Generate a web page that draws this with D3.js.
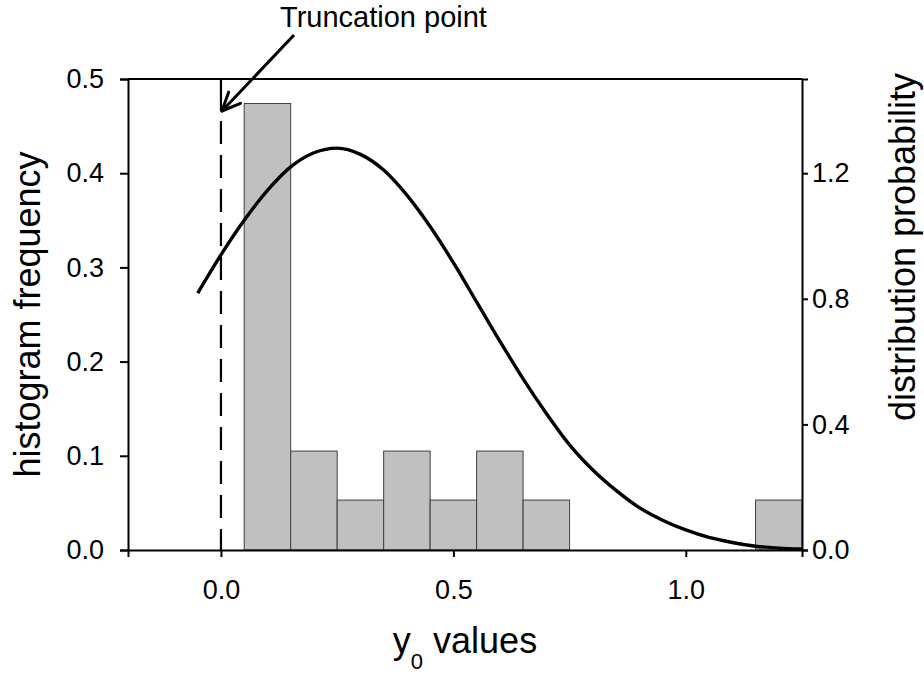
<!DOCTYPE html>
<html>
<head>
<meta charset="utf-8">
<script src="https://cdn.jsdelivr.net/npm/d3@7"></script>
<style>
  html, body { margin: 0; padding: 0; background: #fff; }
  svg { display: block; }
  text { font-family: "Liberation Sans", Arial, Helvetica, sans-serif; fill: #000; }
</style>
</head>
<body>
<svg id="chart" width="924" height="677"></svg>
<script>
// ---- data ----
const binStart = [0.05, 0.15, 0.25, 0.35, 0.45, 0.55, 0.65, 1.15];
const binEnd   = [0.15, 0.25, 0.35, 0.45, 0.55, 0.65, 0.75, 1.25];
const binFreq  = [0.474, 0.105, 0.053, 0.105, 0.053, 0.105, 0.053, 0.053];

const curveX = [-0.05, 0.0, 0.05, 0.10, 0.15, 0.20, 0.25, 0.30, 0.35, 0.40, 0.45, 0.50,
                0.55, 0.60, 0.65, 0.70, 0.75, 0.80, 0.85, 0.90, 0.95, 1.00, 1.05, 1.10,
                1.15, 1.20, 1.25];
const curveY = [0.818, 0.94, 1.05, 1.145, 1.22, 1.265, 1.28, 1.26, 1.21, 1.13, 1.03, 0.915,
                0.79, 0.665, 0.545, 0.435, 0.335, 0.255, 0.19, 0.135, 0.095, 0.064, 0.040, 0.024,
                0.012, 0.006, 0.003];

const xTicks      = [0.0, 0.5, 1.0];
const leftTicks   = [0.0, 0.1, 0.2, 0.3, 0.4, 0.5];
const rightTicks  = [0.0, 0.4, 0.8, 1.2];
const truncationPoint = 0.0;

// ---- layout ----
const svg = d3.select("#chart");
const m = { left: 128, right: 802, top: 79, bottom: 550 };

const x  = d3.scaleLinear().domain([-0.2, 1.25]).range([m.left, m.right]);
const yL = d3.scaleLinear().domain([0, 0.5]).range([m.bottom, m.top]);
const yR = d3.scaleLinear().domain([0, 1.5]).range([m.bottom, m.top]);

// bars
const bars = binStart.map((s, i) => ({ s, e: binEnd[i], f: binFreq[i] }));
svg.append("g").selectAll("rect").data(bars).join("rect")
  .attr("x", d => x(d.s))
  .attr("y", d => yL(d.f))
  .attr("width", d => x(d.e) - x(d.s))
  .attr("height", d => yL(0) - yL(d.f))
  .attr("fill", "#c0c0c0")
  .attr("stroke", "#404040")
  .attr("stroke-width", 1);

// truncation line (solid above arrow tip, dashed below)
const tipY = 111;
svg.append("line")
  .attr("x1", x(truncationPoint)).attr("x2", x(truncationPoint))
  .attr("y1", m.top).attr("y2", tipY)
  .attr("stroke", "#000").attr("stroke-width", 2.2);
svg.append("line")
  .attr("x1", x(truncationPoint)).attr("x2", x(truncationPoint))
  .attr("y1", tipY + 10).attr("y2", m.bottom)
  .attr("stroke", "#000").attr("stroke-width", 2.2)
  .attr("stroke-dasharray", "23,11");

// curve
const pts = curveX.map((v, i) => [v, curveY[i]]);
svg.append("path")
  .datum(pts)
  .attr("fill", "none")
  .attr("stroke", "#000")
  .attr("stroke-width", 3.4)
  .attr("d", d3.line().x(d => x(d[0])).y(d => yR(d[1])).curve(d3.curveMonotoneX));

// frame
svg.append("line").attr("x1", m.left).attr("x2", m.right).attr("y1", m.top).attr("y2", m.top)
  .attr("stroke", "#000").attr("stroke-width", 2);

// axes
const fontTick = 27;
const gL = svg.append("g").attr("transform", `translate(${m.left},0)`)
  .call(d3.axisLeft(yL).tickValues(leftTicks).tickFormat(d3.format(".1f")).tickSize(8).tickPadding(16));
const gR = svg.append("g").attr("transform", `translate(${m.right},0)`)
  .call(d3.axisRight(yR).tickValues(rightTicks).tickFormat(d3.format(".1f")).tickSize(6).tickPadding(4));
const gB = svg.append("g").attr("transform", `translate(0,${m.bottom})`)
  .call(d3.axisBottom(x).tickValues(xTicks).tickFormat(d3.format(".1f")).tickSize(7).tickPadding(23));
[gL, gR, gB].forEach(g => {
  g.select(".domain").attr("stroke", "#000").attr("stroke-width", 2);
  g.selectAll(".tick line").attr("stroke", "#000").attr("stroke-width", 2);
  g.selectAll("text").attr("font-size", fontTick)
    .attr("font-family", "'Liberation Sans', Arial, sans-serif").attr("fill", "#000");
});

// axis titles
svg.append("text")
  .attr("transform", `translate(40,${(m.top + m.bottom) / 2}) rotate(-90)`)
  .attr("text-anchor", "middle")
  .attr("font-size", 36)
  .text("histogram frequency");

svg.append("text")
  .attr("transform", `translate(915,247) rotate(-90)`)
  .attr("text-anchor", "middle")
  .attr("font-size", 36)
  .text("distribution probability");

const xt = svg.append("text")
  .attr("x", (m.left + m.right) / 2)
  .attr("y", 653)
  .attr("text-anchor", "middle")
  .attr("font-size", 36);
xt.append("tspan").text("y");
xt.append("tspan").attr("font-size", 22).attr("dy", 16).text("0");
xt.append("tspan").attr("dy", -16).text(" values");

// annotation
svg.append("text")
  .attr("x", 383.5).attr("y", 27)
  .attr("text-anchor", "middle")
  .attr("font-size", 29)
  .text("Truncation point");

// arrow
const ax0 = 294, ay0 = 35, ax1 = x(truncationPoint) + 1, ay1 = tipY;
svg.append("line").attr("x1", ax0).attr("y1", ay0).attr("x2", ax1).attr("y2", ay1)
  .attr("stroke", "#000").attr("stroke-width", 3);
const ang = Math.atan2(ay0 - ay1, ax0 - ax1);
const hl = 20, spread = 0.42;
[ang - spread, ang + spread].forEach(a => {
  svg.append("line")
    .attr("x1", ax1).attr("y1", ay1)
    .attr("x2", ax1 + hl * Math.cos(a)).attr("y2", ay1 + hl * Math.sin(a))
    .attr("stroke", "#000").attr("stroke-width", 3).attr("stroke-linecap", "round");
});
</script>
</body>
</html>
